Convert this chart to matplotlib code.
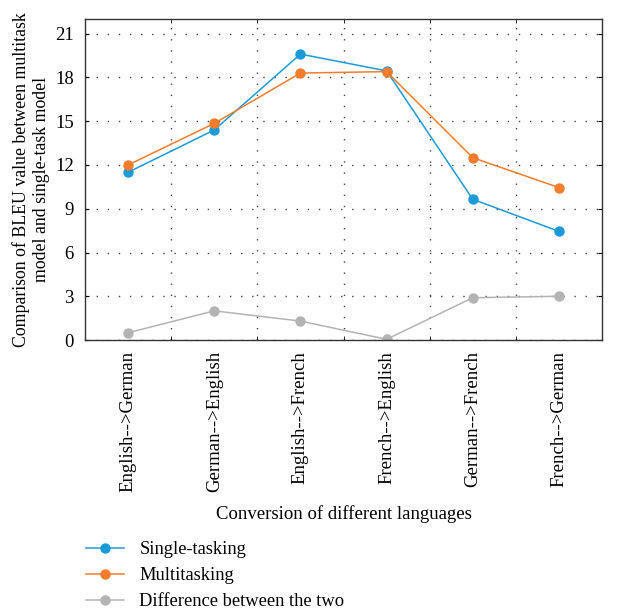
import matplotlib.pyplot as plt
import numpy as np

plt.rcParams['font.family'] = ['Liberation Serif', 'DejaVu Serif']

pairs = ['English-->German', 'German-->English', 'English-->French',
         'French-->English', 'German-->French', 'French-->German']
single = [11.5, 14.4, 19.6, 18.45, 9.65, 7.45]
multi = [12.0, 14.85, 18.3, 18.4, 12.5, 10.45]
diff = [0.5, 2.0, 1.3, 0.05, 2.9, 3.0]

x = np.arange(len(pairs))

fig = plt.figure(figsize=(6.28, 6.16), dpi=100)
ax = fig.add_axes([0.1354, 0.448, 0.8232, 0.521])

ax.plot(x, single, color='#1a9bd7', marker='o', ms=6.5, lw=1.1, label='Single-tasking', zorder=3)
ax.plot(x, multi, color='#f47c2c', marker='o', ms=6.5, lw=1.1, label='Multitasking', zorder=4)
ax.plot(x, diff, color='#b3b3b3', marker='o', ms=6.5, lw=1.1, label='Difference between the two', zorder=2)

ax.set_xlim(-0.5, 5.5)
ax.set_ylim(0, 22)
ax.set_yticks(np.arange(0, 22, 3))
ax.set_xticks(x)
ax.set_xticklabels(pairs, rotation=90, fontsize=13.5)
ax.set_xticks(x[:-1] + 0.5, minor=True)
ax.tick_params(axis='x', which='major', length=0, pad=8)
ax.tick_params(axis='x', which='minor', direction='in', length=3, top=True)
ax.tick_params(axis='y', direction='in', length=3, labelsize=13.5, right=True, pad=8)
ax.grid(axis='y', which='major', linestyle=(0, (1, 7)), color='#444444', lw=1.0)
ax.grid(axis='x', which='minor', linestyle=(0, (1, 7)), color='#444444', lw=1.0)
for s in ax.spines.values():
    s.set_color('#333333')
    s.set_linewidth(1.0)

ax.set_ylabel('Comparison of BLEU value between multitask\nmodel and single-task model', fontsize=12.8, labelpad=4)
ax.set_xlabel('Conversion of different languages', fontsize=13.5, labelpad=9)

fig.legend(loc='lower left', bbox_to_anchor=(0.11, -0.018), frameon=False, fontsize=13.3,
           handlelength=2.1, labelspacing=0.5, handletextpad=0.8)

fig.savefig('out.png')
